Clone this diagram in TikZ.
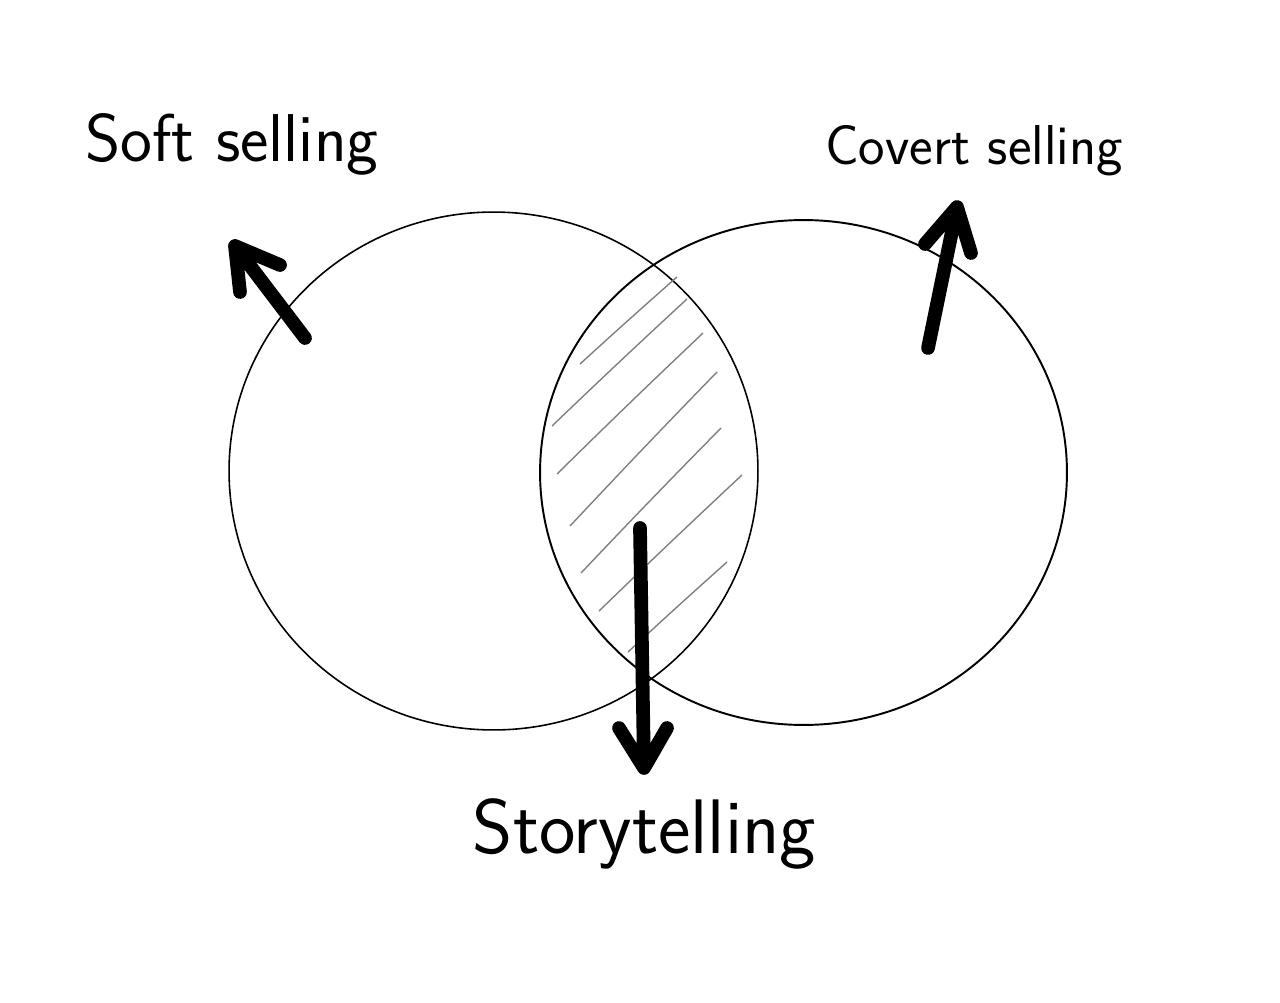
\documentclass[tikz,border=0pt]{standalone}
\usepackage{tikz}
\usetikzlibrary{calc}

\begin{document}
\begin{tikzpicture}[x=0.02cm,y=-0.02cm,
    fatarrow/.style={line width=7.8pt,line cap=round,line join=round},
    setname/.style={anchor=base,inner sep=0pt}]
      \useasboundingbox (0,0) rectangle (1280,1003);
      % the two sets
      \draw[line width=0.9pt] (493.5,471) ellipse [x radius=5.29cm, y radius=5.18cm];
      \draw[line width=1.1pt] (803.5,472.5) ellipse [x radius=5.27cm, y radius=5.05cm];
      % hatching of the overlap
      \foreach \xa/\ya/\xb/\yb in {580/364/677/277, 552/426/687/299, 557/474/703/333,
        570/526/717/372, 581/573/721/428, 599/611/742/475, 628/652/727/562}
      {
        \draw[gray,line width=0.8pt] (\xa,\ya) to[bend left=0.5] (\xb,\yb);
      }
      % labels
      \node[setname,font=\sffamily\fontsize{38.5}{44}\selectfont] (soft) at (232,162) {Soft selling};
      \node[setname,font=\sffamily\fontsize{32}{38}\selectfont] (covert) at (974,165) {Covert selling};
      \node[setname,font=\sffamily\fontsize{44}{50}\selectfont] (story) at (644.5,853) {Storytelling};
      % arrows
      \coordinate (softtail) at (305,338);
      \coordinate (softtip) at (235,246);
      \coordinate (softarmA) at (240,292);
      \coordinate (softarmB) at (280,265);
      \draw[fatarrow] (softtail) -- (softtip) (softarmA) -- (softtip) -- (softarmB);
      \coordinate (coverttail) at (928,348);
      \coordinate (coverttip) at (957,207);
      \coordinate (covertarmA) at (925,244);
      \coordinate (covertarmB) at (971,253);
      \draw[fatarrow] (coverttail) -- (coverttip) (covertarmA) -- (coverttip) -- (covertarmB);
      \coordinate (storytail) at (640,528);
      \coordinate (storytip) at (644,768);
      \coordinate (storyarmA) at (619,728);
      \coordinate (storyarmB) at (667,728);
      \draw[fatarrow] (storytail) -- (storytip) (storyarmA) -- (storytip) -- (storyarmB);
\end{tikzpicture}
\end{document}
